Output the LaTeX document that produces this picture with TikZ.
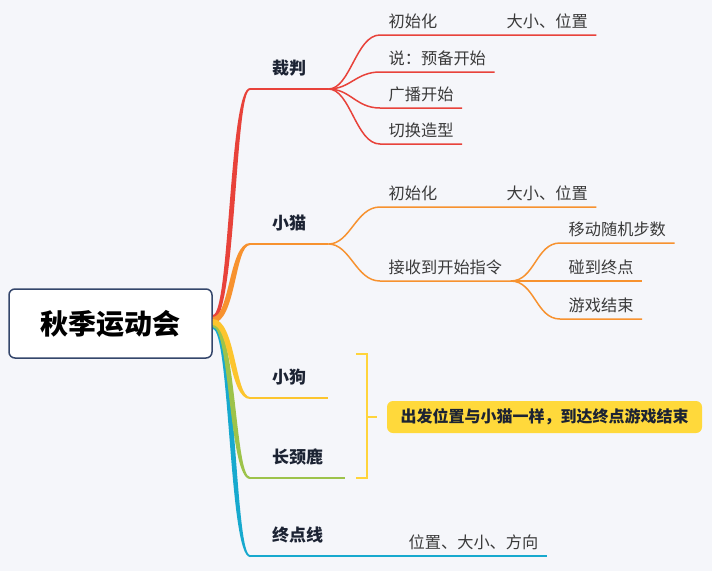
\documentclass[tikz,border=0pt]{standalone}
\usepackage{fontspec}
\setmainfont{Noto Sans CJK SC}
\usepackage{tikz}
\definecolor{bg}{HTML}{F5F6FA}
\definecolor{rootln}{HTML}{34466B}
\definecolor{cr}{HTML}{E8423A}
\definecolor{co}{HTML}{F7922F}
\definecolor{cy}{HTML}{FCC52E}
\definecolor{cg}{HTML}{9DC34A}
\definecolor{cb}{HTML}{17A9CE}
\definecolor{brk}{HTML}{FFD43B}
\definecolor{note}{HTML}{FFD93B}
\definecolor{tx}{HTML}{1C2333}
\definecolor{sub}{HTML}{3A3A3A}

\begin{document}
\begin{tikzpicture}[x=1pt,y=1pt,
    rootbox/.style={draw=rootln,line width=1.5pt,fill=white,rounded corners=6pt,
      minimum width=203pt,minimum height=69pt,text=black,font=\fontsize{28}{30}\selectfont\bfseries},
    topic/.style={anchor=south west,inner xsep=22pt,inner ysep=0pt,text height=13pt,
      text depth=14pt,text=tx,font=\fontsize{17}{20}\selectfont\bfseries},
    leaf/.style={anchor=south west,inner xsep=8.5pt,inner ysep=0pt,text height=13pt,
      text depth=7pt,text=sub,font=\fontsize{16.2}{19}\selectfont},
    notebox/.style={fill=note,rounded corners=6pt,minimum width=315pt,minimum height=32pt,
      text=tx,font=\fontsize{16}{19}\selectfont\bfseries},
    ul/.style={line width=2pt},
    sl/.style={line width=1.5pt}]
  \fill[bg] (0,0) rectangle (712,-571);
  \useasboundingbox (0,0) rectangle (712,-571);

  \node[rootbox] (root) at (110.5,-323.5) {秋季运动会};

  % main topics
  \node[topic] (caipan) at (250,-89) {裁判};
  \node[topic] (xiaomao) at (250,-244) {小猫};
  \node[topic] (xiaogou) at (250,-398) {小狗};
  \node[topic] (lu) at (250,-478) {长颈鹿};
  \node[topic] (zhongdian) at (250,-556) {终点线};

  % referee
  \node[leaf] (r1) at (380,-35) {初始化};
  \node[leaf] (r1a) at (498,-35) {大小、位置};
  \node[leaf] (r2) at (380,-72) {说：预备开始};
  \node[leaf] (r3) at (380,-108) {广播开始};
  \node[leaf] (r4) at (380,-144) {切换造型};
  % cat
  \node[leaf] (c1) at (380,-207) {初始化};
  \node[leaf] (c1a) at (498,-207) {大小、位置};
  \node[leaf] (c2) at (380,-281) {接收到开始指令};
  \node[leaf] (c21) at (560,-243) {移动随机步数};
  \node[leaf] (c22) at (560,-281) {碰到终点};
  \node[leaf] (c23) at (560,-319) {游戏结束};
  % finish line
  \node[leaf] (f1) at (400,-556) {位置、大小、方向};

  \node[notebox] (note) at (544.5,-417) {出发位置与小猫一样，到达终点游戏结束};

  % branches out of the root
  \fill[cr] ([yshift=8.5pt]root.east) .. controls +(17,0) and +(-21,0) .. ([yshift=1pt]caipan.south west)
    -- ([yshift=-1pt]caipan.south west) .. controls +(-15,0) and +(23,0) .. ([yshift=2.5pt]root.east) -- cycle;
  \fill[co] ([yshift=6.5pt]root.east) .. controls +(17,0) and +(-21,0) .. ([yshift=1pt]xiaomao.south west)
    -- ([yshift=-1pt]xiaomao.south west) .. controls +(-15,0) and +(23,0) .. ([yshift=0.5pt]root.east) -- cycle;
  \fill[cb] ([yshift=0.5pt]root.east) .. controls +(23,0) and +(-15,0) .. ([yshift=1pt]zhongdian.south west)
    -- ([yshift=-1pt]zhongdian.south west) .. controls +(-21,0) and +(17,0) .. ([yshift=-5.5pt]root.east) -- cycle;
  \fill[cg] ([yshift=2.5pt]root.east) .. controls +(23,0) and +(-15,0) .. ([yshift=1pt]lu.south west)
    -- ([yshift=-1pt]lu.south west) .. controls +(-21,0) and +(17,0) .. ([yshift=-3.5pt]root.east) -- cycle;
  \fill[cy] ([yshift=4.5pt]root.east) .. controls +(23,0) and +(-15,0) .. ([yshift=1pt]xiaogou.south west)
    -- ([yshift=-1pt]xiaogou.south west) .. controls +(-21,0) and +(17,0) .. ([yshift=-1.5pt]root.east) -- cycle;

  \draw[cr,ul] (caipan.south west) -- (caipan.south east);
  \draw[co,ul] (xiaomao.south west) -- (xiaomao.south east);
  \draw[cy,ul] (xiaogou.south west) -- (xiaogou.south east);
  \draw[cg,ul] (lu.south west) -- (lu.south east);
  \draw[cb,ul] (zhongdian.south west) -- (zhongdian.south east);

  % referee lines
  \draw[cr,sl] (caipan.south east) .. controls +(22,0) and +(-24,0) .. (r1.south west)
    -- (r1.south east) -- (r1a.south west) -- (r1a.south east);
  \draw[cr,sl] (caipan.south east) .. controls +(22,0) and +(-24,0) .. (r2.south west) -- (r2.south east);
  \draw[cr,sl] (caipan.south east) .. controls +(22,0) and +(-24,0) .. (r3.south west) -- (r3.south east);
  \draw[cr,sl] (caipan.south east) .. controls +(22,0) and +(-24,0) .. (r4.south west) -- (r4.south east);

  % cat lines
  \draw[co,sl] (xiaomao.south east) .. controls +(22,0) and +(-24,0) .. (c1.south west)
    -- (c1.south east) -- (c1a.south west) -- (c1a.south east);
  \draw[co,sl] (xiaomao.south east) .. controls +(22,0) and +(-24,0) .. (c2.south west) -- (c2.south east);
  \draw[co,sl] (c2.south east) .. controls +(24,0) and +(-24,0) .. (c21.south west) -- (c21.south east);
  \draw[co,sl] (c2.south east) -- (c22.south west) -- (c22.south east);
  \draw[co,sl] (c2.south east) .. controls +(24,0) and +(-24,0) .. (c23.south west) -- (c23.south east);

  % finish line
  \draw[cb,sl] (zhongdian.south east) -- (f1.south west) -- (f1.south east);

  % bracket for dog and giraffe
  \coordinate (btop) at (356,-354);
  \coordinate (bbot) at (356,-478);
  \coordinate (bmid) at (377,-417);
  \draw[brk,line width=1.5pt] (btop) -- (367,-354) -- (367,-478) -- (bbot);
  \draw[brk,line width=1.5pt] (367,-417) -- (bmid);
\end{tikzpicture}
\end{document}
